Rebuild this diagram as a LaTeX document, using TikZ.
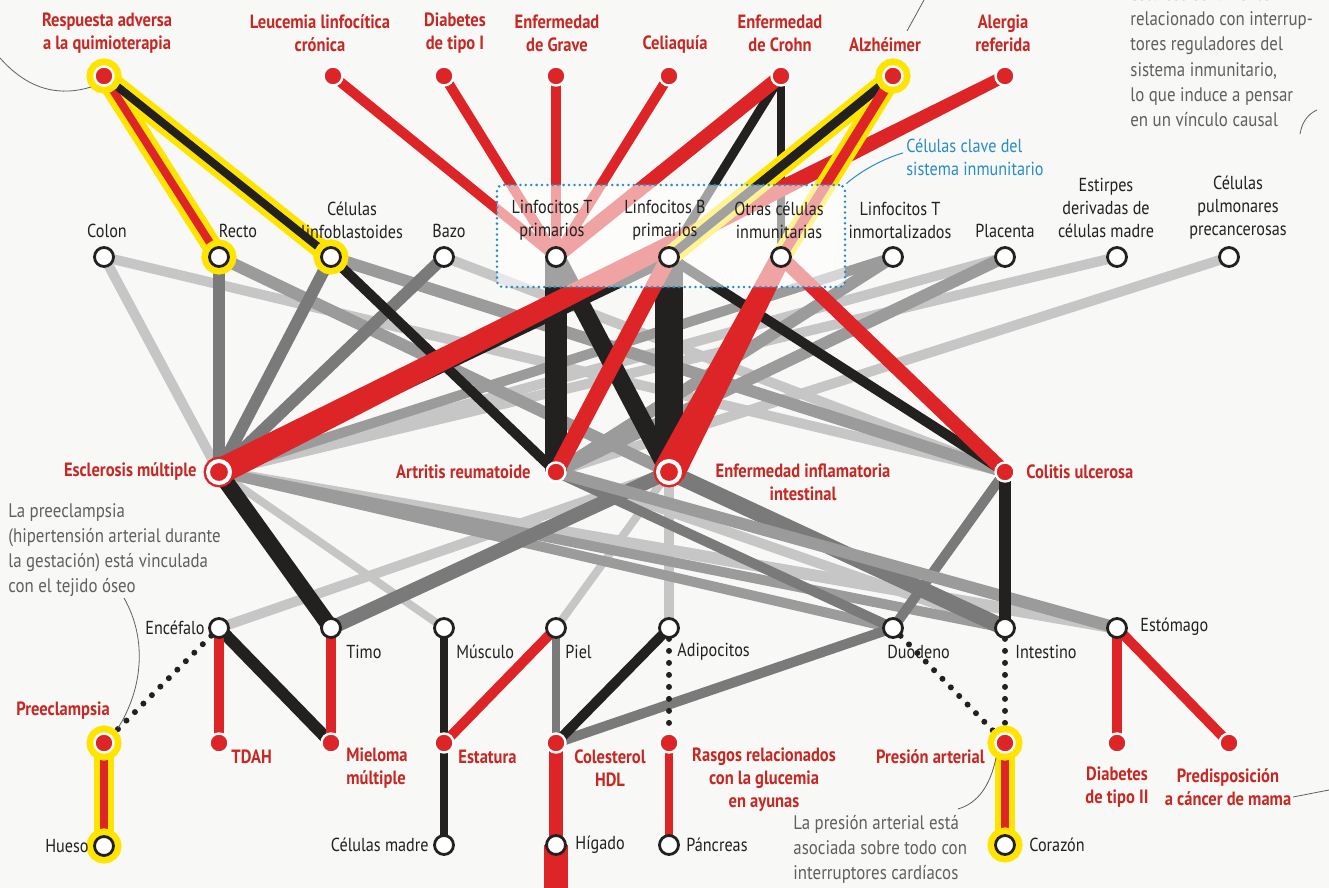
\documentclass[tikz,border=0pt]{standalone}
\usepackage{fontspec}
\setmainfont{PT Sans}[FakeStretch=0.86]
\usetikzlibrary{calc}
\definecolor{rd}{RGB}{221,36,38}
\definecolor{rdt}{RGB}{198,40,36}
\definecolor{blk}{RGB}{35,32,32}
\definecolor{mg}{RGB}{122,122,122}
\definecolor{gm}{RGB}{155,155,155}
\definecolor{lg}{RGB}{198,198,198}
\definecolor{yel}{RGB}{255,228,0}
\definecolor{bl}{RGB}{40,140,200}
\definecolor{bgc}{RGB}{248,248,246}
\definecolor{annot}{RGB}{95,95,95}
\pgfdeclarelayer{l0}\pgfdeclarelayer{l1}\pgfdeclarelayer{l2}\pgfdeclarelayer{l3}\pgfdeclarelayer{l4}
\pgfsetlayers{l0,l1,l2,l3,l4,main}
\newcommand\tapered[5]{\fill[#5] ($(#1.center)!#3!90:(#2.center)$) -- ($(#1.center)!#3!-90:(#2.center)$) -- ($(#2.center)!#4!90:(#1.center)$) -- ($(#2.center)!#4!-90:(#1.center)$) -- cycle;}
\begin{document}
\begin{tikzpicture}[x=0.5pt,y=-0.5pt,
  cell/.style={circle,draw=blk,fill=white,line width=1.4pt,minimum size=9.5pt,inner sep=0pt},
  dis/.style={circle,fill=rd,draw=white,line width=1.2pt,minimum size=9.5pt,inner sep=0pt},
  big/.style={circle,fill=rd,draw=white,line width=2pt,minimum size=11pt,inner sep=0pt,preaction={draw=rd,line width=4.4pt}},
  ring/.style={preaction={draw=yel,line width=8pt}},
  lab/.style={font=\fontsize{9.4pt}{11.5pt}\selectfont,align=center,inner sep=0pt,text=blk},
  dlab/.style={font=\fontsize{9.6pt}{11.5pt}\selectfont\bfseries,align=center,inner sep=0pt,text=rdt},
  note/.style={font=\fontsize{9.8pt}{12.6pt}\selectfont,align=left,inner sep=0pt,text=annot},
  ln/.style={line width=#1},
  dots/.style={blk,line width=3pt,dash pattern=on 0pt off 6pt,line cap=round},
  lead/.style={annot,line width=0.4pt}
]
\useasboundingbox (0,0) rectangle (1329,888);
\begin{pgfonlayer}{l0}\fill[bgc] (0,0) rectangle (1329,888);\end{pgfonlayer}

% ---------- nodes: top diseases
\node[dis,ring] (ra) at (104,76) {};
\node[dis] (llc) at (333,76) {};
\node[dis] (dt1) at (444,76) {};
\node[dis] (eg) at (556,76) {};
\node[dis] (cel) at (669,76) {};
\node[dis] (ec) at (781,76) {};
\node[dis,ring] (alz) at (893,76) {};
\node[dis] (alr) at (1005,76) {};
% top cells
\node[cell] (colon) at (104,257) {};
\node[cell,ring] (recto) at (219,257) {};
\node[cell,ring] (linfo) at (331,257) {};
\node[cell] (bazo) at (444,257) {};
\node[cell] (ltp) at (556,257) {};
\node[cell] (lbp) at (669,257) {};
\node[cell] (oci) at (781,257) {};
\node[cell] (lti) at (893,257) {};
\node[cell] (plac) at (1005,257) {};
\node[cell] (estir) at (1117,257) {};
\node[cell] (pulm) at (1229,257) {};
% middle diseases
\node[big] (em) at (219,472) {};
\node[dis] (artr) at (556,472) {};
\node[big] (eii) at (669,472) {};
\node[dis] (cu) at (1005,472) {};
% bottom cells
\node[cell] (ence) at (219,628) {};
\node[cell] (timo) at (331,628) {};
\node[cell] (musc) at (444,628) {};
\node[cell] (piel) at (556,628) {};
\node[cell] (adip) at (669,628) {};
\node[cell] (duod) at (893,628) {};
\node[cell] (intest) at (1005,628) {};
\node[cell] (estom) at (1117,628) {};
% bottom diseases
\node[dis,ring] (pre) at (104,743) {};
\node[dis] (tdah) at (219,743) {};
\node[dis] (miel) at (331,743) {};
\node[dis] (estat) at (444,743) {};
\node[dis] (hdl) at (556,743) {};
\node[dis] (rasg) at (669,743) {};
\node[dis,ring] (pres) at (1005,743) {};
\node[dis] (dt2) at (1117,743) {};
\node[dis] (cancer) at (1229,743) {};
% lowest cells
\node[cell,ring] (hueso) at (104,846) {};
\node[cell] (cmadre) at (444,845) {};
\node[cell] (higado) at (556,845) {};
\node[cell] (pancr) at (669,845) {};
\node[cell,ring] (coraz) at (1005,845) {};
\coordinate (bottomend) at (556,900);

% ---------- box of immune cells
\begin{pgfonlayer}{l4}
\node[draw=bl,line width=1.4pt,dash pattern=on 0pt off 2.7pt,line cap=round,rounded corners=3pt,
  fill=white,fill opacity=0.58,minimum width=174pt,minimum height=51pt,inner sep=0pt] (box) at (671,236) {};
\end{pgfonlayer}

% ---------- light grey links
\begin{pgfonlayer}{l1}
\draw[lg,ln=5pt] (colon.center) -- (em.center);
\draw[lg,ln=5pt] (colon.center) -- (cu.center);
\draw[lg,ln=5pt] (estir.center) -- (em.center);
\draw[lg,ln=5pt] (pulm.center) -- (artr.center);
\draw[lg,ln=5pt] (bazo.center) -- (cu.center);
\draw[lg,ln=5pt] (plac.center) -- (em.center);
\draw[lg,ln=4pt] (em.center) -- (musc.center);
\draw[lg,ln=6pt] (em.center) -- (estom.center);
\draw[lg,ln=5pt] (eii.center) -- (adip.center);
\draw[lg,ln=5pt] (eii.center) -- (ence.center);
\draw[lg,ln=4pt] (piel.center) -- (eii.center);
\draw[lg,ln=5pt] (artr.center) -- (intest.center);
\end{pgfonlayer}

% ---------- mid grey links
\begin{pgfonlayer}{l2}
\draw[mg,ln=6pt] (recto.center) -- (em.center);
\draw[gm,ln=6pt] (recto.center) -- (eii.center);
\draw[mg,ln=6pt] (linfo.center) -- (em.center);
\draw[gm,ln=6pt] (linfo.center) -- (cu.center);
\draw[mg,ln=6pt] (bazo.center) -- (em.center);
\draw[gm,ln=6pt] (lti.center) -- (artr.center);
\draw[gm,ln=5pt] (lti.center) -- (em.center);
\draw[gm,ln=6pt] (plac.center) -- (artr.center);
\draw[gm,ln=5pt] (em.center) -- (intest.center);
\draw[gm,ln=5pt] (em.center) -- (duod.center);
\draw[mg,ln=5pt] (artr.center) -- (duod.center);
\draw[mg,ln=8pt] (eii.center) -- (intest.center);
\draw[mg,ln=7pt] (eii.center) -- (timo.center);
\draw[mg,ln=5pt] (cu.center) -- (duod.center);
\draw[mg,ln=5pt] (duod.center) -- (hdl.center);
\draw[mg,ln=4pt] (piel.center) -- (hdl.center);
\draw[gm,ln=6pt] (estom.center) -- (artr.center);
\end{pgfonlayer}

% ---------- black and red links
\begin{pgfonlayer}{l3}
\draw[blk,ln=6pt] (ence.center) -- (miel.center);
\draw[blk,ln=4pt] (musc.center) -- (cmadre.center);
\draw[blk,ln=5pt] (adip.center) -- (hdl.center);
\draw[blk,ln=6pt] (cu.center) -- (intest.center);
\draw[blk,ln=8pt] (em.center) -- (timo.center);
\draw[blk,ln=5pt] (linfo.center) -- (artr.center);
\draw[blk,ln=11pt] (ltp.center) -- (artr.center);
\draw[blk,ln=9pt] (ltp.center) -- (eii.center);
\draw[blk,ln=7pt] (lbp.center) -- (em.center);
\draw[blk,ln=14pt] (lbp.center) -- (eii.center);
\draw[blk,ln=5pt] (lbp.center) -- (cu.center);
\draw[blk,ln=4.5pt] (ec.center) -- (lbp.center);
\draw[blk,ln=4pt] (ec.center) -- (oci.center);
\draw[rd,ln=5pt] (llc.center) -- (ltp.center);
\draw[rd,ln=5pt] (dt1.center) -- (ltp.center);
\draw[rd,ln=5pt] (eg.center) -- (ltp.center);
\draw[rd,ln=5pt] (cel.center) -- (ltp.center);
\draw[rd,ln=7pt] (ec.center) -- (ltp.center);
\tapered{alr}{em}{3pt}{6.5pt}{rd}
\draw[rd,ln=8pt] (lbp.center) -- (artr.center);
\tapered{oci}{eii}{5pt}{8pt}{rd}
\draw[rd,ln=7pt] (oci.center) -- (cu.center);
% yellow halos
\draw[yel,ln=10pt,line cap=round] (ra.center) -- (recto.center);
\draw[yel,ln=10pt,line cap=round] (ra.center) -- (linfo.center);
\draw[yel,ln=10pt,line cap=round] (alz.center) -- (lbp.center);
\draw[yel,ln=10pt,line cap=round] (alz.center) -- (oci.center);
\draw[yel,ln=10pt] (pre.center) -- (hueso.center);
\draw[yel,ln=10pt] (pres.center) -- (coraz.center);
\draw[rd,ln=4pt] (ra.center) -- (recto.center);
\draw[blk,ln=4pt] (ra.center) -- (linfo.center);
\draw[blk,ln=4.5pt] (alz.center) -- (lbp.center);
\draw[rd,ln=5pt] (alz.center) -- (oci.center);
\draw[rd,ln=4pt] (pre.center) -- (hueso.center);
\draw[rd,ln=4pt] (pres.center) -- (coraz.center);
% bottom part
\draw[rd,ln=5pt] (ence.center) -- (tdah.center);
\draw[rd,ln=5pt] (timo.center) -- (miel.center);
\draw[rd,ln=5pt] (piel.center) -- (estat.center);
\draw[rd,ln=5pt] (estom.center) -- (dt2.center);
\draw[rd,ln=5pt] (estom.center) -- (cancer.center);
\draw[rd,ln=7pt] (hdl.center) -- (higado.center);
\draw[rd,ln=12pt] (higado.center) -- (bottomend);
\draw[rd,ln=4pt] (rasg.center) -- (pancr.center);
\draw[dots] (ence) -- (pre);
\draw[dots] (adip) -- (rasg);
\draw[dots] (duod) -- (pres);
\draw[dots] (intest) -- (pres);
\end{pgfonlayer}

% ---------- labels: top diseases
\node[dlab] (t-ra) at (107,33) {Respuesta adversa\\a la quimioterapia};
\node[dlab] (t-llc) at (320,33) {Leucemia linfocítica\\crónica};
\node[dlab] (t-dt1) at (455,33) {Diabetes\\de tipo I};
\node[dlab] (t-eg) at (557,33) {Enfermedad\\de Grave};
\node[dlab] (t-cel) at (675,45) {Celiaquía};
\node[dlab] (t-ec) at (780,33) {Enfermedad\\de Crohn};
\node[dlab] (t-alz) at (885,45) {Alzhéimer};
\node[dlab] (t-alr) at (1003,33) {Alergia\\referida};
% top cells
\node[lab] (t-colon) at (107,231) {Colon};
\node[lab] (t-recto) at (238,231) {Recto};
\node[lab] (t-linfo) at (352,220) {Células\\linfoblastoides};
\node[lab] (t-bazo) at (449,231) {Bazo};
\node[lab] (t-ltp) at (552,220) {Linfocitos T\\primarios};
\node[lab] (t-lbp) at (665,220) {Linfocitos B\\primarios};
\node[lab] (t-oci) at (779,220) {Otras células\\inmunitarias};
\node[lab] (t-lti) at (900,220) {Linfocitos T\\inmortalizados};
\node[lab] (t-plac) at (1005,231) {Placenta};
\node[lab] (t-estir) at (1106,208) {Estirpes\\derivadas de\\células madre};
\node[lab] (t-pulm) at (1238,208) {Células\\pulmonares\\precancerosas};
\node[lab,text=bl,align=left,anchor=west] (t-box) at (906,157) {Células clave del\\sistema inmunitario};
% middle
\node[dlab,anchor=east] (t-em) at (197,472) {Esclerosis múltiple};
\node[dlab,anchor=east] (t-artr) at (531,472) {Artritis reumatoide};
\node[dlab] (t-eii) at (803,482) {Enfermedad inflamatoria\\intestinal};
\node[dlab,anchor=west] (t-cu) at (1026,472) {Colitis ulcerosa};
% bottom cells
\node[lab,anchor=east] (t-ence) at (205,628) {Encéfalo};
\node[lab,anchor=west] (t-timo) at (346,652) {Timo};
\node[lab,anchor=west] (t-musc) at (456,652) {Músculo};
\node[lab,anchor=west] (t-piel) at (565,652) {Piel};
\node[lab,anchor=west] (t-adip) at (677,652) {Adipocitos};
\node[lab,anchor=west] (t-duod) at (887,652) {Duodeno};
\node[lab,anchor=west] (t-intest) at (1015,652) {Intestino};
\node[lab,anchor=west] (t-estom) at (1140,627) {Estómago};
% bottom diseases
\node[dlab] (t-pre) at (63,711) {Preeclampsia};
\node[dlab,anchor=west] (t-tdah) at (231,757) {TDAH};
\node[dlab,anchor=west,align=left] (t-miel) at (346,768) {Mieloma\\múltiple};
\node[dlab,anchor=west] (t-estat) at (458,757) {Estatura};
\node[dlab] (t-hdl) at (610,768) {Colesterol\\HDL};
\node[dlab] (t-rasg) at (764,780) {Rasgos relacionados\\con la glucemia\\en ayunas};
\node[dlab,anchor=east] (t-pres) at (985,757) {Presión arterial};
\node[dlab] (t-dt2) at (1117,787) {Diabetes\\de tipo II};
\node[dlab] (t-cancer) at (1228,787) {Predisposición\\a cáncer de mama};
% lowest cells
\node[lab,anchor=east] (t-hueso) at (89,846) {Hueso};
\node[lab,anchor=east] (t-cmadre) at (429,845) {Células madre};
\node[lab,anchor=west] (t-higado) at (575,845) {Hígado};
\node[lab,anchor=west] (t-pancr) at (686,845) {Páncreas};
\node[lab,anchor=west] (t-coraz) at (1029,845) {Corazón};

% ---------- annotations
\node[note,anchor=north west] (n-pre) at (8,503) {La preeclampsia\\(hipertensión arterial durante\\la gestación) está vinculada\\con el tejido óseo};
\node[note,anchor=north west] (n-pres) at (793,815) {La presión arterial está\\asociada sobre todo con\\interruptores cardíacos};
\node[note,anchor=north west] (n-top) at (1130,-14) {está estrechamente\\relacionado con interrup-\\tores reguladores del\\sistema inmunitario,\\lo que induce a pensar\\en un vínculo causal};
\draw[lead] (0,58) .. controls (30,92) and (62,96) .. (91,87);
\draw[lead] (124,598) .. controls (148,640) and (142,690) .. (118,728);
\draw[lead] (996,758) .. controls (990,786) and (978,803) .. (958,809);
\draw[lead] (907,31) -- (924,0);
\draw[lead] (1300,134) .. controls (1302,122) and (1308,114) .. (1317,110);
\draw[lead] (1293,797) -- (1329,790);
\draw[bl,line width=0.5pt] (box.north east) .. controls (862,170) and (885,158) .. (903,153);
\end{tikzpicture}
\end{document}
